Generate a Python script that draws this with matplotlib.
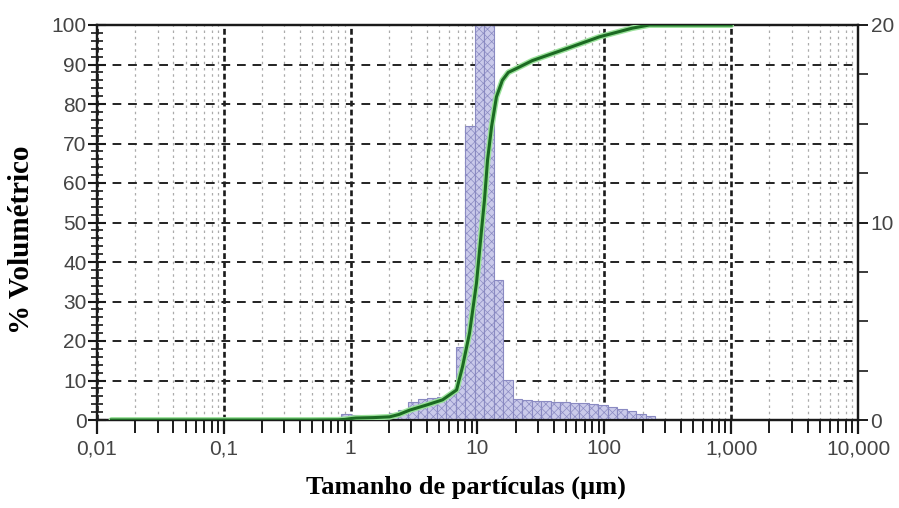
import matplotlib
matplotlib.use("Agg")
import matplotlib.pyplot as plt
from matplotlib.ticker import FixedLocator, MultipleLocator, LogLocator, NullFormatter, FixedFormatter
import numpy as np

# ---- data ----
bin_edges_um = [0.845, 1.005, 1.194, 1.419, 1.687, 2.005, 2.382, 2.831, 3.365, 3.999,
                4.753, 5.649, 6.714, 7.980, 9.484, 11.27, 13.40, 15.92, 18.92, 22.49,
                26.73, 31.77, 37.76, 44.87, 53.33, 63.39, 75.34, 89.54, 106.4, 126.5,
                150.3, 178.6, 212.3, 252.3, 299.9]
bin_volume_pct = [0.30, 0.25, 0.08, 0.06, 0.10, 0.36, 0.50, 0.90, 1.08, 1.12,
                  1.18, 1.32, 3.68, 14.9, 22.0, 23.5, 7.08, 2.04, 1.06, 1.00,
                  0.96, 0.96, 0.92, 0.90, 0.88, 0.84, 0.80, 0.76, 0.68, 0.56,
                  0.44, 0.32, 0.20, 0.06]
cum_size_um = [0.013, 0.1, 0.5, 0.8, 0.9, 1.0, 1.1, 1.5, 2.03, 2.4, 2.92, 3.97, 5.30,
               6.84, 7.62, 8.65, 9.82, 10.7, 11.35, 12.0, 12.9, 14.1, 15.7, 17.5, 20.3,
               27.1, 50.2, 91.4, 166, 226, 400, 1000]
cum_pct = [0, 0, 0, 0.05, 0.15, 0.35, 0.5, 0.6, 0.8, 1.4, 2.5, 3.8, 5.1,
           7.6, 13.5, 22, 34.7, 47.3, 55.7, 65.8, 74.2, 81.8, 86, 88, 89,
           91, 94, 97, 99.2, 100, 100, 100]
x_ticks = [0.01, 0.1, 1, 10, 100, 1000, 10000]
x_tick_labels = ["0,01", "0,1", "1", "10", "100", "1,000", "10,000"]
left_ticks = [0, 10, 20, 30, 40, 50, 60, 70, 80, 90, 100]
right_ticks = [0, 10, 20]

# ---- figure ----
plt.rcParams['hatch.linewidth'] = 0.5
W, H = 899, 508
fig = plt.figure(figsize=(W / 100, H / 100), dpi=100)
L, R, B, T = 97, 858, 420, 25
ax = fig.add_axes([L / W, 1 - B / H, (R - L) / W, (B - T) / H])
ax2 = ax.twinx()

ax.set_xscale('log')
ax.set_xlim(0.01, 10000)
ax.set_ylim(0, 100)
ax2.set_ylim(0, 20)

tick_color = '#444444'
tick_font = dict(family='Liberation Sans', size=15)

ax.xaxis.set_major_locator(FixedLocator(x_ticks))
ax.xaxis.set_major_formatter(FixedFormatter(x_tick_labels))
ax.xaxis.set_minor_locator(LogLocator(base=10, subs=np.arange(2, 10), numticks=20))
ax.xaxis.set_minor_formatter(NullFormatter())
ax.yaxis.set_major_locator(FixedLocator(left_ticks))
ax.yaxis.set_minor_locator(MultipleLocator(2))
ax2.yaxis.set_major_locator(FixedLocator(right_ticks))
ax2.yaxis.set_minor_locator(MultipleLocator(2.5))

for a in (ax, ax2):
    for lab in a.get_xticklabels() + a.get_yticklabels():
        lab.set_fontfamily(tick_font['family'])
        lab.set_fontsize(tick_font['size'])
        lab.set_color(tick_color)
    for s in a.spines.values():
        s.set_color('#1a1a1a')
        s.set_linewidth(1.6)

ax.tick_params(axis='x', which='major', direction='out', length=10, width=1.6,
               colors='#1a1a1a', labelcolor=tick_color, pad=4)
ax.tick_params(axis='x', which='minor', direction='out', length=9, width=1.4, colors='#1a1a1a')
ax.tick_params(axis='y', which='major', direction='inout', length=13, width=1.5,
               colors='#1a1a1a', labelcolor=tick_color, pad=1)
ax.tick_params(axis='y', which='minor', direction='inout', length=8, width=1.2, colors='#1a1a1a')
ax2.tick_params(axis='y', which='major', direction='out', length=7, width=1.4,
                colors='#1a1a1a', labelcolor=tick_color, pad=2)
ax2.tick_params(axis='y', which='minor', direction='out', length=7, width=1.2, colors='#1a1a1a')

# grid (on the bottom axes)
ax.grid(axis='y', which='major', color='#222222', linestyle=(0, (4.5, 3.5)), linewidth=1.4)
ax.grid(axis='x', which='major', color='#1a1a1a', linestyle=(0, (2.2, 1.2)), linewidth=1.9)
ax.grid(axis='x', which='minor', color='#ababab', linestyle=(0, (2, 3)), linewidth=0.9)
ax.set_axisbelow(True)

# histogram bars (right axis)
edges = np.array(bin_edges_um)
ax2.bar(edges[:-1], bin_volume_pct, width=np.diff(edges), align='edge',
        color='#cacaea', edgecolor='#8a8ac2', hatch='xxxx', linewidth=0.8, zorder=2)

# cumulative curve (left axis scale), drawn above bars
ax2.plot(cum_size_um, cum_pct, transform=ax.transData, color='#9be29b',
         linewidth=4.2, solid_capstyle='round', zorder=3, clip_on=True)
ax2.plot(cum_size_um, cum_pct, transform=ax.transData, color='#1b6a22',
         linewidth=2.2, zorder=4, clip_on=True)
ax2.set_ylim(0, 20)

# axis titles
fig.text(466 / W, 1 - 487 / H, 'Tamanho de partículas (µm)', ha='center', va='center',
         family='Liberation Serif', weight='bold', fontsize=19)
fig.text(22 / W, 1 - 240 / H, '% Volumétrico', ha='center', va='center', rotation=90,
         family='Liberation Serif', weight='bold', fontsize=21)

fig.savefig('out.png', dpi=100, facecolor='white')
